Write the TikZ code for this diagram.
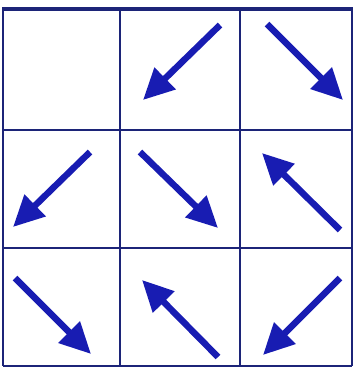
\documentclass[tikz,border=0pt]{standalone}
\usetikzlibrary{arrows.meta}

\definecolor{gridnavy}{RGB}{28,36,120}
\definecolor{arrowblue}{RGB}{24,28,178}

\tikzset{
  gridline/.style={gridnavy, line width=2.2pt},
  movearrow/.style={arrowblue, line width=6.5pt, -{Triangle[length=31pt, width=29pt]}}
}

\begin{document}
\begin{tikzpicture}[x=1pt, y=-1pt]
  \useasboundingbox (0,0) rectangle (354,367);

  % Grid
  \foreach \gx in {3,120,240,352}
    \draw[gridline] (\gx,9) -- (\gx,366);
  \foreach \gy in {130,248,366}
    \draw[gridline] (3,\gy) -- (352,\gy);
  \draw[gridline, line width=3.2pt] (2,9) -- (353,9);

  % Arrows: tail x/y, tip x/y
  \foreach \tx/\ty/\hx/\hy in {220/25/143/100, 267/24/343/100,
                                90/152/13/227, 140/152/218/228, 340/230/262/153,
                                15/278/91/354, 218/357/142/280, 340/278/263/355}
    \draw[movearrow] (\tx,\ty) -- (\hx,\hy);
\end{tikzpicture}
\end{document}
